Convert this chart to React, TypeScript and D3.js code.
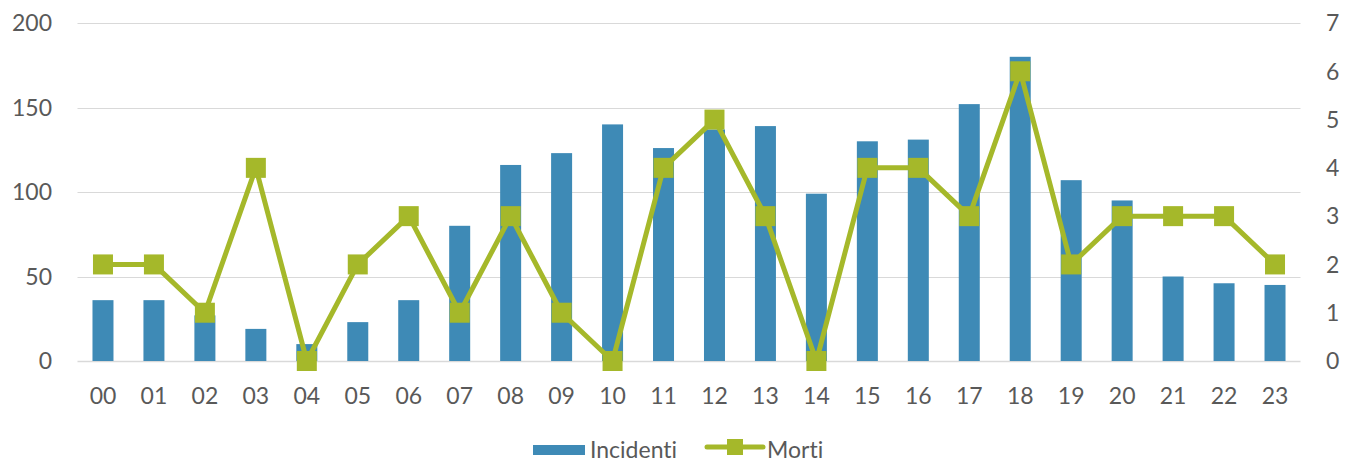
import * as d3 from 'd3'

const hours = ['00', '01', '02', '03', '04', '05', '06', '07', '08', '09', '10', '11', '12', '13', '14', '15', '16', '17', '18', '19', '20', '21', '22', '23']
const incidenti = [36, 36, 27, 19, 10, 23, 36, 80, 116, 123, 140, 126, 137, 139, 99, 130, 131, 152, 180, 107, 95, 50, 46, 45]
const morti = [2, 2, 1, 4, 0, 2, 3, 1, 3, 1, 0, 4, 5, 3, 0, 4, 4, 3, 6, 2, 3, 3, 3, 2]
const leftTicks = [0, 50, 100, 150, 200]
const rightTicks = [0, 1, 2, 3, 4, 5, 6, 7]

const W = 1346
const H = 462
const BLUE = '#3E8AB6'
const GREEN = '#A5B82A'
const TEXT = '#595959'
const GRID = '#D9D9D9'
const FONT = 'Lato, "Open Sans", sans-serif'
const FS = 23

export default function App() {
  const x = d3.scaleBand<string>().domain(hours).range([77.5, 1300.5])
  const yL = d3.scaleLinear().domain([0, 200]).range([361, 23])
  const yR = d3.scaleLinear().domain([0, 7]).range([361, 23])
  const barW = 21
  const cx = (h: string) => (x(h) as number) + x.bandwidth() / 2

  const line = d3.line<number>()
    .x((_, i) => cx(hours[i]))
    .y((d) => yR(d))

  const ms = 20

  return (
    <svg width={W} height={H} style={{ position: 'absolute', left: 0, top: 0, background: '#fff', fontVariantLigatures: 'none' }}
      fontFamily={FONT}>
      {/* gridlines */}
      {leftTicks.map((t) => (
        <line key={t} x1={77.5} x2={1300.5} y1={Math.round(yL(t)) + 0.5} y2={Math.round(yL(t)) + 0.5}
          stroke={GRID} strokeWidth={t === 0 ? 1.5 : 1} />
      ))}
      {/* left axis labels */}
      {leftTicks.map((t) => (
        <text key={t} x={52} y={yL(t)} dy="0.36em" textAnchor="end" fontSize={FS} fill={TEXT}>{t}</text>
      ))}
      {/* right axis labels */}
      {rightTicks.map((t) => (
        <text key={t} x={1326} y={yR(t)} dy="0.36em" textAnchor="start" fontSize={FS} fill={TEXT}>{t}</text>
      ))}
      {/* bars */}
      {incidenti.map((v, i) => (
        <rect key={i} x={cx(hours[i]) - barW / 2} y={yL(v)} width={barW} height={yL(0) - yL(v)} fill={BLUE} />
      ))}
      {/* line */}
      <path d={line(morti) as string} fill="none" stroke={GREEN} strokeWidth={5} strokeLinejoin="round" />
      {morti.map((v, i) => (
        <rect key={i} x={cx(hours[i]) - ms / 2} y={yR(v) - ms / 2} width={ms} height={ms} fill={GREEN} />
      ))}
      {/* x labels */}
      {hours.map((h) => (
        <text key={h} x={cx(h)} y={404} textAnchor="middle" fontSize={FS} fill={TEXT}>{h}</text>
      ))}
      {/* legend */}
      <rect x={533} y={445} width={52} height={10} fill={BLUE} />
      <text x={590} y={458} fontSize={FS} fill={TEXT}>Incidenti</text>
      <line x1={707} x2={763} y1={447} y2={447} stroke={GREEN} strokeWidth={5} strokeLinecap="round" />
      <rect x={727} y={439} width={16} height={16} fill={GREEN} />
      <text x={767} y={458} fontSize={FS} fill={TEXT}>Morti</text>
    </svg>
  )
}
